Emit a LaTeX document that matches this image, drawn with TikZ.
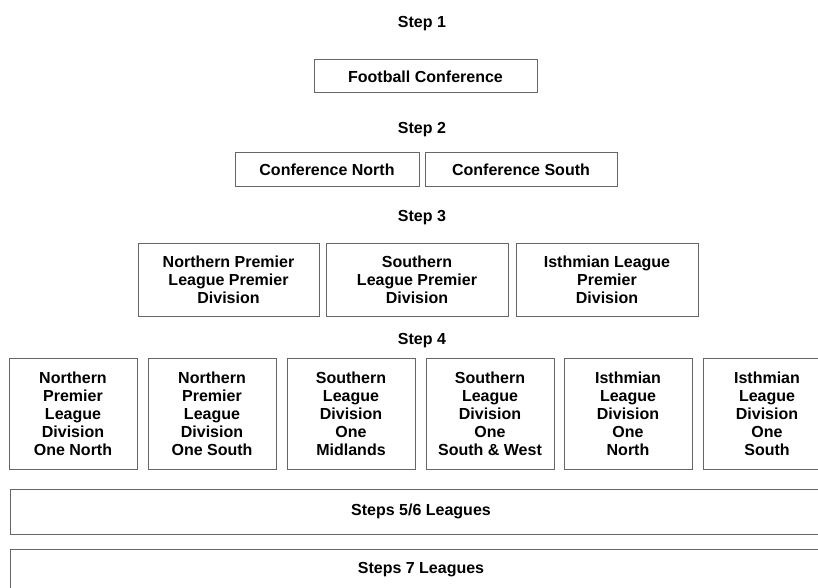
\documentclass[tikz,border=0pt]{standalone}
\usepackage{fontspec}
\setmainfont{Liberation Sans}
\tikzset{
  league/.style={draw=black!60, line width=1pt, inner sep=0pt, align=center, font=\bfseries\fontsize{16}{18}\selectfont},
  steptitle/.style={inner sep=0pt, anchor=base, font=\bfseries\fontsize{16}{18}\selectfont},
}
\begin{document}
\begin{tikzpicture}[x=1pt,y=-1pt]
\useasboundingbox (0,0) rectangle (818,588);
\clip (0,0) rectangle (818,588);
\node[steptitle] (st1) at (422,28) {Step 1};
\node[league, minimum width=223pt, minimum height=33pt] (conf) at (425.5,76.5) {Football Conference};
\node[steptitle] (st2) at (422,134) {Step 2};
\node[league, minimum width=184pt, minimum height=33pt] (confn) at (327,169.5) {Conference North};
\node[league, minimum width=192pt, minimum height=33pt] (confs) at (521,169.5) {Conference South};
\node[steptitle] (st3) at (422,221) {Step 3};
\node[league, minimum width=181pt, minimum height=73pt] (npl) at (228.5,279.5) {Northern Premier\\League Premier\\Division};
\node[league, minimum width=182pt, minimum height=73pt] (sl) at (417,279.5) {Southern\\League Premier\\Division};
\node[league, minimum width=182pt, minimum height=73pt] (il) at (607,279.5) {Isthmian League\\Premier\\Division};
\node[steptitle] (st4) at (422,344) {Step 4};
\node[league, minimum width=128pt, minimum height=111pt] (npln) at (73,413.5) {Northern\\Premier\\League\\Division\\One North};
\node[league, minimum width=128pt, minimum height=111pt] (npls) at (212,413.5) {Northern\\Premier\\League\\Division\\One South};
\node[league, minimum width=128pt, minimum height=111pt] (slm) at (351,413.5) {Southern\\League\\Division\\One\\Midlands};
\node[league, minimum width=128pt, minimum height=111pt] (slsw) at (490,413.5) {Southern\\League\\Division\\One\\South \& West};
\node[league, minimum width=128pt, minimum height=111pt] (iln) at (628,413.5) {Isthmian\\League\\Division\\One\\North};
\node[league, minimum width=128pt, minimum height=111pt] (ils) at (767,413.5) {Isthmian\\League\\Division\\One\\South};
\node[league, minimum width=822pt, minimum height=45pt] (st56) at (421,511.5) {Steps 5/6 Leagues};
\node[league, minimum width=822pt, minimum height=41pt] (st7) at (421,569.5) {Steps 7 Leagues};
\end{tikzpicture}
\end{document}
